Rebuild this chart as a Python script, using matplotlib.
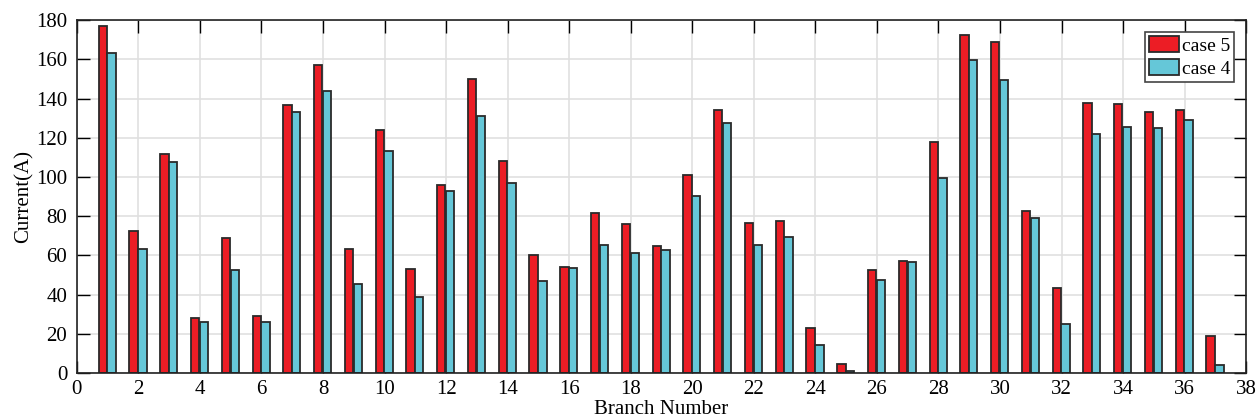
import numpy as np
import matplotlib.pyplot as plt

plt.rcParams['font.family'] = ['Liberation Serif', 'DejaVu Serif']

# branch currents
branches = np.arange(1, 38)
case5 = [177, 72.4, 111.7, 28, 68.8, 29, 136.7, 157, 63, 124,
         53, 95.9, 150, 108, 60.3, 54, 81.6, 76, 64.8, 101,
         134, 76.5, 77.6, 23, 4.6, 52.5, 57.1, 117.8, 172.4, 168.8,
         82.6, 43.3, 137.7, 137, 133.3, 134, 19]
case4 = [163.5, 63.2, 107.6, 26.2, 52.5, 26, 133, 143.8, 45.4, 113,
         39, 92.6, 131, 97, 46.8, 53.5, 65.3, 61.2, 62.7, 90.2,
         127.5, 65.5, 69.4, 14.3, 1, 47.4, 56.8, 99.4, 159.6, 149.6,
         79.2, 25, 121.9, 125.4, 125, 129, 4.2]

fig = plt.figure(figsize=(12.6, 4.2), dpi=100)
ax = fig.add_axes([0.061, 0.112, 0.928, 0.840])

w = 0.27
ax.bar(branches - 0.155, case5, width=w, color='#EC1D25', edgecolor='#2a2a2a',
       linewidth=1.3, label='case 5', zorder=3)
ax.bar(branches + 0.13, case4, width=w, color='#65C7D8', edgecolor='#2a2a2a',
       linewidth=1.3, label='case 4', zorder=3)

ax.set_xlim(0, 38)
ax.set_ylim(0, 180)
ax.set_xticks(np.arange(0, 39, 2))
ax.set_yticks(np.arange(0, 181, 20))
ax.grid(True, color='#e0e0e0', linewidth=1.2, zorder=0)
ax.tick_params(direction='in', top=True, right=True, length=9, width=1,
               labelsize=15, zorder=4)
ax.tick_params(axis='x', pad=5)
ax.tick_params(axis='y', pad=7)
for s in ax.spines.values():
    s.set_linewidth(1.2)
    s.set_color('#222222')
    s.set_zorder(5)

ax.set_xlabel('Branch Number', fontsize=15, labelpad=1)
ax.set_ylabel('Current(A)', fontsize=15, labelpad=2)

leg = ax.legend(loc='upper right', fontsize=14, fancybox=False, framealpha=1,
                edgecolor='#444444', borderpad=0.2, handlelength=1.55,
                handleheight=0.95, handletextpad=0.15, labelspacing=0.2,
                borderaxespad=0.6)
leg.get_frame().set_linewidth(1.2)

fig.savefig('out.png', dpi=100)
